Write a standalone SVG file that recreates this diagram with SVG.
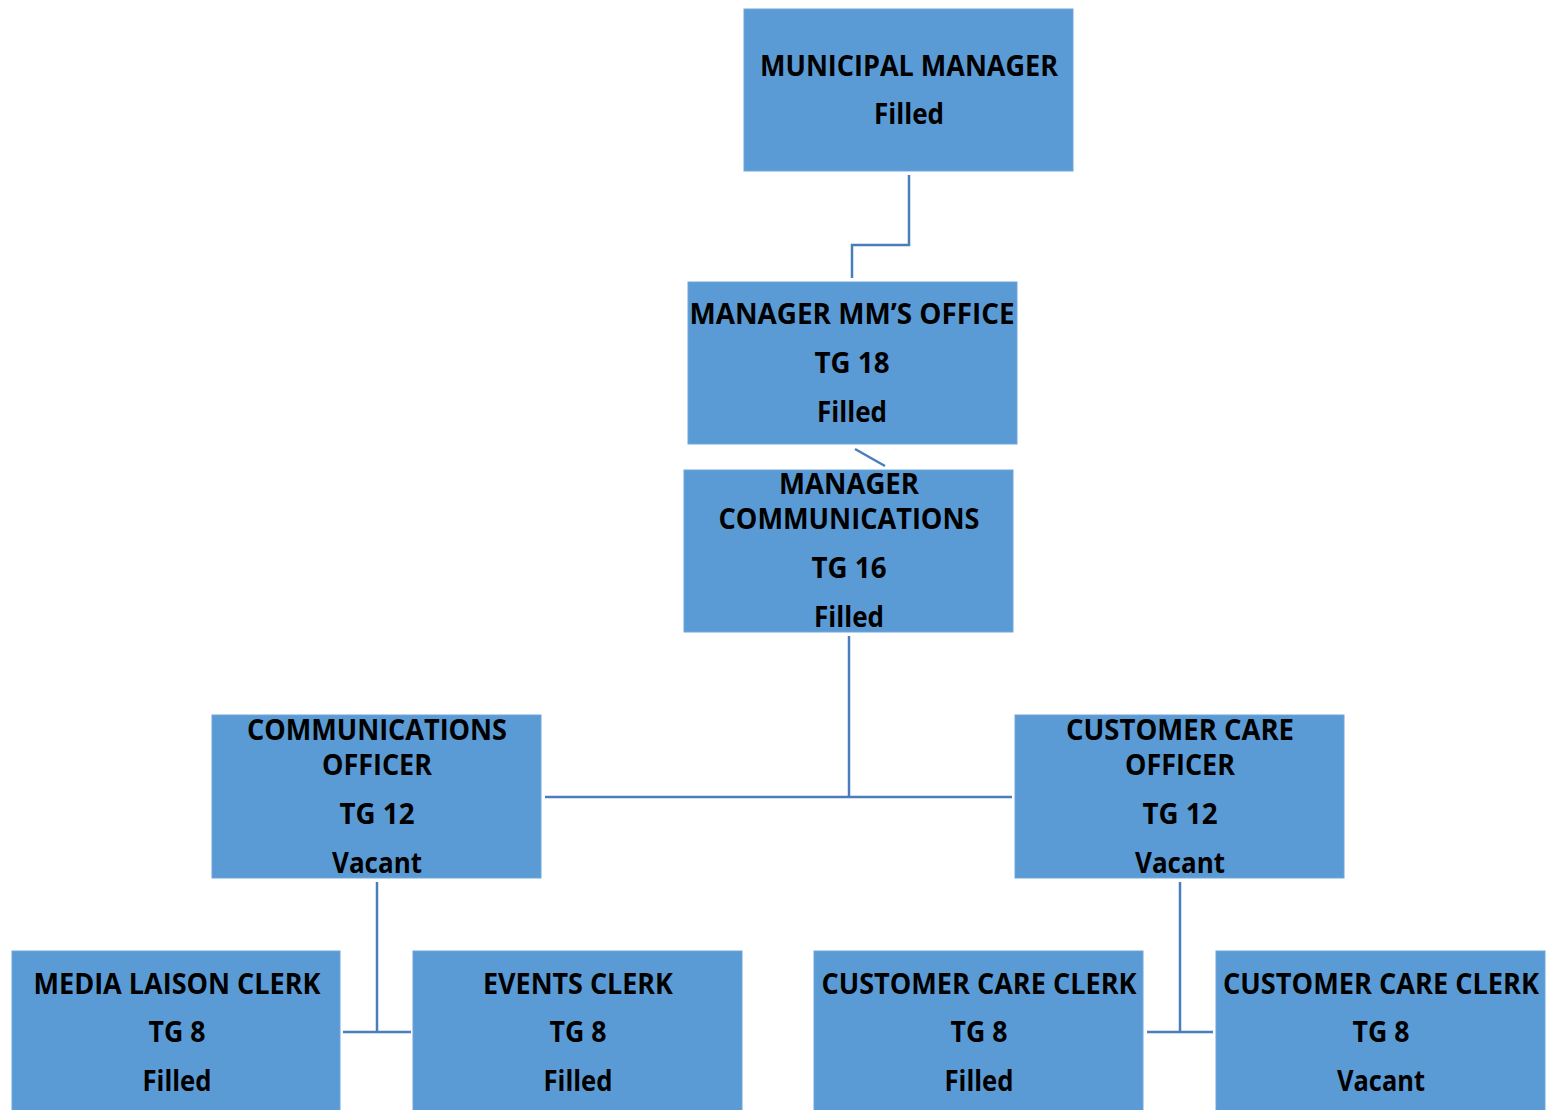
<svg xmlns="http://www.w3.org/2000/svg" width="1546" height="1110" viewBox="0 0 1546 1110">
  <style>
    .box { fill: #5B9BD5; stroke: #6FA6DA; stroke-width: 1; }
    .lbl { font-family: "Open Sans", "Liberation Sans", sans-serif; font-weight: bold; font-size: 28px; fill: #000; text-anchor: middle; }
    .wire { fill: none; stroke: #4A7EBB; stroke-width: 2.5; }
  </style>
  <rect width="1546" height="1110" fill="#ffffff"/>

  <g id="connectors">
    <polyline class="wire" points="909,175 909,245 852,245 852,278"/>
    <line class="wire" x1="855" y1="449" x2="885" y2="466"/>
    <line class="wire" x1="849" y1="636" x2="849" y2="797"/>
    <line class="wire" x1="545" y1="797" x2="1012" y2="797"/>
    <line class="wire" x1="377" y1="882" x2="377" y2="1032"/>
    <line class="wire" x1="343" y1="1032" x2="411" y2="1032"/>
    <line class="wire" x1="1180" y1="882" x2="1180" y2="1032"/>
    <line class="wire" x1="1147" y1="1032" x2="1213" y2="1032"/>
  </g>

  <g id="municipal-manager">
    <rect class="box" x="744" y="9" width="329" height="162"/>
    <text class="lbl" x="909" y="76" textLength="298" lengthAdjust="spacingAndGlyphs">MUNICIPAL MANAGER</text>
    <text class="lbl" x="909" y="124" textLength="70" lengthAdjust="spacingAndGlyphs">Filled</text>
  </g>

  <g id="manager-mm-office">
    <rect class="box" x="688" y="282" width="329" height="162"/>
    <text class="lbl" x="852" y="324" textLength="325" lengthAdjust="spacingAndGlyphs">MANAGER MM’S OFFICE</text>
    <text class="lbl" x="852" y="373" textLength="75" lengthAdjust="spacingAndGlyphs">TG 18</text>
    <text class="lbl" x="852" y="422" textLength="70" lengthAdjust="spacingAndGlyphs">Filled</text>
  </g>

  <g id="manager-communications">
    <rect class="box" x="684" y="470" width="329" height="162"/>
    <text class="lbl" x="849" y="494" textLength="140" lengthAdjust="spacingAndGlyphs">MANAGER</text>
    <text class="lbl" x="849" y="529" textLength="261" lengthAdjust="spacingAndGlyphs">COMMUNICATIONS</text>
    <text class="lbl" x="849" y="578" textLength="75" lengthAdjust="spacingAndGlyphs">TG 16</text>
    <text class="lbl" x="849" y="627" textLength="70" lengthAdjust="spacingAndGlyphs">Filled</text>
  </g>

  <g id="communications-officer">
    <rect class="box" x="212" y="715" width="329" height="163"/>
    <text class="lbl" x="377" y="740" textLength="260" lengthAdjust="spacingAndGlyphs">COMMUNICATIONS</text>
    <text class="lbl" x="377" y="775" textLength="110" lengthAdjust="spacingAndGlyphs">OFFICER</text>
    <text class="lbl" x="377" y="824" textLength="75" lengthAdjust="spacingAndGlyphs">TG 12</text>
    <text class="lbl" x="377" y="873" textLength="90" lengthAdjust="spacingAndGlyphs">Vacant</text>
  </g>

  <g id="customer-care-officer">
    <rect class="box" x="1015" y="715" width="329" height="163"/>
    <text class="lbl" x="1180" y="740" textLength="228" lengthAdjust="spacingAndGlyphs">CUSTOMER CARE</text>
    <text class="lbl" x="1180" y="775" textLength="110" lengthAdjust="spacingAndGlyphs">OFFICER</text>
    <text class="lbl" x="1180" y="824" textLength="75" lengthAdjust="spacingAndGlyphs">TG 12</text>
    <text class="lbl" x="1180" y="873" textLength="90" lengthAdjust="spacingAndGlyphs">Vacant</text>
  </g>

  <g id="media-liaison-clerk">
    <rect class="box" x="12" y="951" width="328" height="162"/>
    <text class="lbl" x="177" y="994" textLength="287" lengthAdjust="spacingAndGlyphs">MEDIA LAISON CLERK</text>
    <text class="lbl" x="177" y="1042" textLength="57" lengthAdjust="spacingAndGlyphs">TG 8</text>
    <text class="lbl" x="177" y="1091" textLength="69" lengthAdjust="spacingAndGlyphs">Filled</text>
  </g>

  <g id="events-clerk">
    <rect class="box" x="413" y="951" width="329" height="162"/>
    <text class="lbl" x="578" y="994" textLength="190" lengthAdjust="spacingAndGlyphs">EVENTS CLERK</text>
    <text class="lbl" x="578" y="1042" textLength="57" lengthAdjust="spacingAndGlyphs">TG 8</text>
    <text class="lbl" x="578" y="1091" textLength="69" lengthAdjust="spacingAndGlyphs">Filled</text>
  </g>

  <g id="customer-care-clerk-1">
    <rect class="box" x="814" y="951" width="329" height="162"/>
    <text class="lbl" x="979" y="994" textLength="315" lengthAdjust="spacingAndGlyphs">CUSTOMER CARE CLERK</text>
    <text class="lbl" x="979" y="1042" textLength="57" lengthAdjust="spacingAndGlyphs">TG 8</text>
    <text class="lbl" x="979" y="1091" textLength="69" lengthAdjust="spacingAndGlyphs">Filled</text>
  </g>

  <g id="customer-care-clerk-2">
    <rect class="box" x="1216" y="951" width="329" height="162"/>
    <text class="lbl" x="1381" y="994" textLength="316" lengthAdjust="spacingAndGlyphs">CUSTOMER CARE CLERK</text>
    <text class="lbl" x="1381" y="1042" textLength="57" lengthAdjust="spacingAndGlyphs">TG 8</text>
    <text class="lbl" x="1381" y="1091" textLength="88" lengthAdjust="spacingAndGlyphs">Vacant</text>
  </g>
</svg>
